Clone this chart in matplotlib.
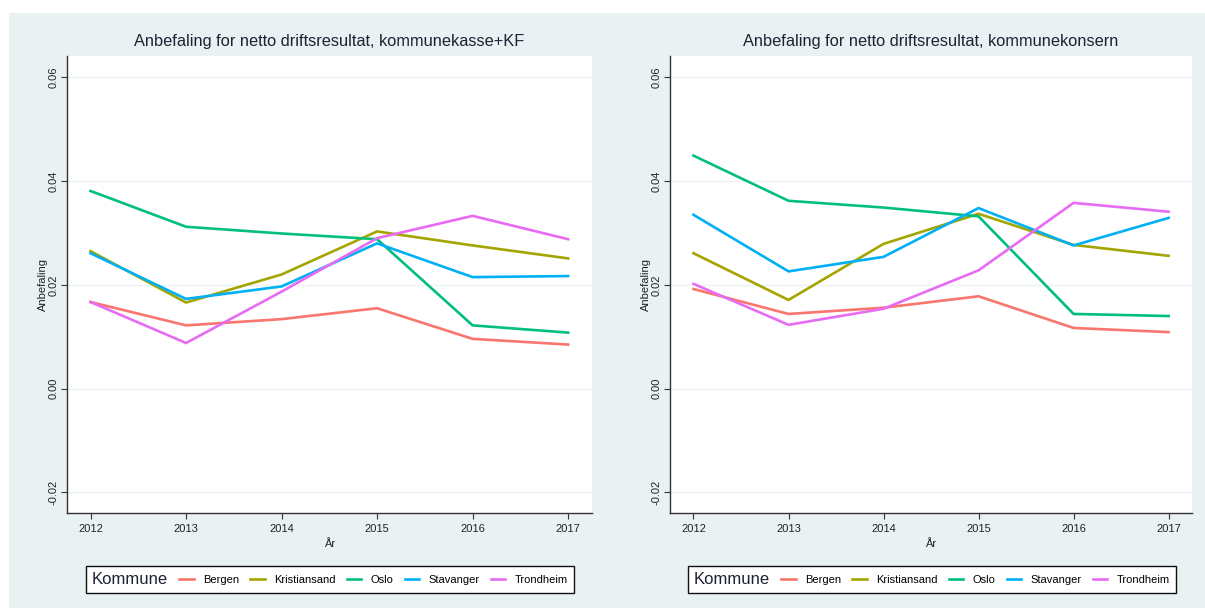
#!/usr/bin/env python3
"""
Anbefaling for netto driftsresultat per kommune, 2012-2017.
Two panels: kommunekasse+KF and kommunekonsern.
"""

import matplotlib
matplotlib.use("Agg")
import matplotlib.pyplot as plt
from matplotlib.offsetbox import HPacker
from matplotlib.patches import Rectangle

plt.rcParams["font.family"] = ["Liberation Sans", "DejaVu Sans"]

years = [2012, 2013, 2014, 2015, 2016, 2017]
kommuner = ["Bergen", "Kristiansand", "Oslo", "Stavanger", "Trondheim"]
colors = ["#F8766D", "#A3A500", "#00BF7D", "#00B0F6", "#E76BF3"]

# kommunekasse + KF
kasse_bergen = [0.0167, 0.0122, 0.0134, 0.0155, 0.0096, 0.0085]
kasse_kristiansand = [0.0265, 0.0166, 0.0220, 0.0303, 0.0276, 0.0251]
kasse_oslo = [0.0381, 0.0312, 0.0299, 0.0288, 0.0122, 0.0108]
kasse_stavanger = [0.0261, 0.0173, 0.0197, 0.0280, 0.0215, 0.0217]
kasse_trondheim = [0.0167, 0.0088, 0.0187, 0.0290, 0.0333, 0.0288]

# kommunekonsern
konsern_bergen = [0.0192, 0.0144, 0.0156, 0.0178, 0.0117, 0.0109]
konsern_kristiansand = [0.0261, 0.0171, 0.0279, 0.0337, 0.0277, 0.0256]
konsern_oslo = [0.0449, 0.0362, 0.0349, 0.0332, 0.0144, 0.0140]
konsern_stavanger = [0.0335, 0.0226, 0.0254, 0.0348, 0.0276, 0.0329]
konsern_trondheim = [0.0202, 0.0123, 0.0154, 0.0228, 0.0358, 0.0341]

yticks = [-0.02, 0.00, 0.02, 0.04, 0.06]

BG = "#E9F1F3"
GRID = "#EBF2F3"
TXT = "#1E2233"

panels = [
    ("Anbefaling for netto driftsresultat, kommunekasse+KF",
     [kasse_bergen, kasse_kristiansand, kasse_oslo, kasse_stavanger, kasse_trondheim],
     [0.0553, 0.1567, 0.4360, 0.7512], 0.2739),
    ("Anbefaling for netto driftsresultat, kommunekonsern",
     [konsern_bergen, konsern_kristiansand, konsern_oslo, konsern_stavanger, konsern_trondheim],
     [0.5558, 0.1567, 0.4337, 0.7512], 0.7733),
]


def draw_panel(fig, title, series, rect, legend_x):
    ax = fig.add_axes(rect)
    ax.set_facecolor("white")
    for name, vals, col in zip(kommuner, series, colors):
        ax.plot(years, vals, color=col, lw=1.9, label=name, solid_joinstyle="miter")

    ax.set_xlim(2011.75, 2017.25)
    ax.set_ylim(-0.0239, 0.0641)
    ax.set_xticks(years)
    ax.set_yticks(yticks)
    ax.set_yticklabels([f"{v:.2f}" for v in yticks], rotation=90, va="center")
    ax.grid(axis="y", color=GRID, lw=1.0)
    ax.set_axisbelow(True)

    for side in ("top", "right"):
        ax.spines[side].set_visible(False)
    for side in ("left", "bottom"):
        ax.spines[side].set_color("#333333")
        ax.spines[side].set_linewidth(1.0)
    ax.tick_params(axis="both", direction="out", length=4, width=0.8,
                   color="#333333", labelsize=8, labelcolor="#222222", pad=4)
    ax.tick_params(axis="y", pad=2)

    ax.set_title(title, fontsize=11.8, color=TXT, pad=7)
    ax.set_xlabel("År", fontsize=8, color="#222222", labelpad=4)
    ax.set_ylabel("Anbefaling", fontsize=8, color="#222222", labelpad=0)

    leg = ax.legend(title="Kommune", ncol=5, loc="center",
                    bbox_to_anchor=(legend_x, 0.0466),
                    bbox_transform=fig.transFigure,
                    fontsize=8, title_fontsize=12, frameon=True,
                    fancybox=False, edgecolor="#111111", framealpha=1.0,
                    handlelength=1.3, handletextpad=0.85, columnspacing=1.0,
                    borderpad=0.55)
    leg.get_frame().set_linewidth(1.0)
    leg.get_title().set_color(TXT)
    # put the legend title left of the entries instead of above them
    leg._legend_box.__class__ = HPacker
    leg._legend_box.align = "center"
    leg._legend_box.sep = 8
    return ax


fig = plt.figure(figsize=(12.05, 6.08), dpi=100)
fig.patch.set_facecolor("white")
fig.patches.append(Rectangle((9 / 1205, 0), 1 - 9 / 1205, 1 - 13 / 608,
                             transform=fig.transFigure, facecolor=BG,
                             edgecolor="none", zorder=-10))

for title, series, rect, lx in panels:
    draw_panel(fig, title, series, rect, lx)

fig.savefig("out.png", dpi=100, facecolor=fig.get_facecolor())
